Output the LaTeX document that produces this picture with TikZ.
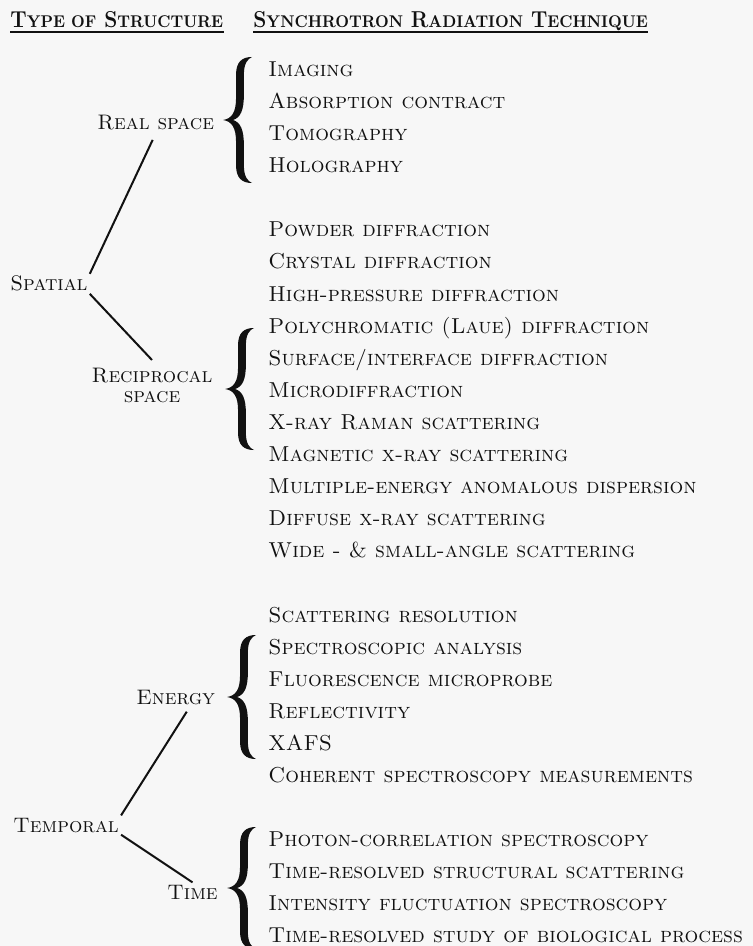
\documentclass[tikz,border=0pt]{standalone}
\usepackage{xcolor}
\usepackage{graphicx}
\usepackage{tikz}
\usetikzlibrary{positioning}
\definecolor{paper}{HTML}{F7F7F7}
\definecolor{ink}{HTML}{111111}
\newcommand{\hsc}[1]{{\fontsize{8.5}{10}\selectfont #1}}
\newcommand{\headtext}[1]{\scalebox{0.91}[1]{#1}}
\newcommand{\drawcurly}[3]{%
  \fill[ink,shift={(#1,#2)},xscale=29,yscale=#3]
    (1,1) .. controls (0.65,1) and (0.45,0.92) .. (0.45,0.72)
    -- (0.45,0.35) .. controls (0.45,0.12) and (0.3,0.02) .. (0,0)
    .. controls (0.3,-0.02) and (0.45,-0.12) .. (0.45,-0.35)
    -- (0.45,-0.72) .. controls (0.45,-0.92) and (0.65,-1) .. (1,-1)
    .. controls (0.85,-0.97) and (0.72,-0.9) .. (0.72,-0.72)
    -- (0.72,-0.4) .. controls (0.72,-0.15) and (0.6,-0.04) .. (0.35,0)
    .. controls (0.6,0.04) and (0.72,0.15) .. (0.72,0.4)
    -- (0.72,0.72) .. controls (0.72,0.9) and (0.85,0.97) .. (1,1) -- cycle;}
\tikzset{
  every node/.style={text=ink},
  item/.style={anchor=base west,inner sep=0pt,font=\fontsize{10.8}{13}\selectfont\scshape},
  kind/.style={anchor=base west,inner sep=1pt,align=center,font=\fontsize{10.5}{13}\selectfont\scshape},
  head/.style={anchor=base west,inner sep=0pt,font=\fontsize{11.5}{14}\selectfont\bfseries},
  link/.style={draw=ink,line width=1pt},
  rule/.style={draw=ink,line width=0.7pt},
}

\begin{document}
\begin{tikzpicture}[x=0.5pt,y=-0.5pt]
\useasboundingbox[fill=paper] (0,0) rectangle (753,946);
% column heads
\node[head] (htype) at (10,28) {\headtext{T\hsc{YPE OF} S\hsc{TRUCTURE}}};
\node[head] (htech) at (253,28) {\headtext{S\hsc{YNCHROTRON} R\hsc{ADIATION} T\hsc{ECHNIQUE}}};
\draw[rule] ([shift={(0,4)}]htype.base west) -- ([shift={(0,4)}]htype.base east);
\draw[rule] ([shift={(0,4)}]htech.base west) -- ([shift={(0,4)}]htech.base east);
% structure tree
\node[kind] (real) at (95,130) {Real space};
\node[kind] (spatial) at (8,291) {Spatial};
\node[kind,anchor=north] (recip) at (152,366) {Reciprocal\\[-3pt]space};
\node[kind] (energy) at (134,704) {Energy};
\node[kind] (temporal) at (11,832) {Temporal};
\node[kind] (time) at (165,899) {Time};
\draw[link] (spatial.north east) -- ([shift={(-3,7)}]real.south);
\draw[link] (spatial.south east) -- ([shift={(0,-6)}]recip.north);
\draw[link] (temporal.north east) -- ([shift={(11,5)}]energy.south);
\draw[link] (temporal.south east) -- (time.north);
% braces
\drawcurly{223}{120}{63}
\drawcurly{225}{389}{61}
\drawcurly{227}{697}{62}
\drawcurly{227}{888}{61}
% real space
\node[item] (img) at (268,77) {Imaging};
\node[item] (absc) at (268,109) {Absorption contract};
\node[item] (tomo) at (268,141) {Tomography};
\node[item] (holo) at (268,173) {Holography};
% reciprocal space
\node[item] (powd) at (268,237) {Powder diffraction};
\node[item] (crys) at (268,269) {Crystal diffraction};
\node[item] (hipr) at (268,301) {High-pressure diffraction};
\node[item] (laue) at (268,333) {Polychromatic (Laue) diffraction};
\node[item] (surf) at (268,365) {Surface/interface diffraction};
\node[item] (micr) at (268,397) {Microdiffraction};
\node[item] (ramn) at (268,429) {X-ray Raman scattering};
\node[item] (magn) at (268,461) {Magnetic x-ray scattering};
\node[item] (mead) at (268,493) {Multiple-energy anomalous dispersion};
\node[item] (diff) at (268,525) {Diffuse x-ray scattering};
\node[item] (saxs) at (268,557) {Wide - \& small-angle scattering};
% energy
\node[item] (sres) at (268,622) {Scattering resolution};
\node[item] (spec) at (268,654) {Spectroscopic analysis};
\node[item] (fluo) at (268,686) {Fluorescence microprobe};
\node[item] (refl) at (268,718) {Reflectivity};
\node[item] (xafs) at (268,750) {XAFS};
\node[item] (cohr) at (268,782) {Coherent spectroscopy measurements};
% time
\node[item] (pcs) at (268,846) {Photon-correlation spectroscopy};
\node[item] (trss) at (268,878) {Time-resolved structural scattering};
\node[item] (ifs) at (268,910) {Intensity fluctuation spectroscopy};
\node[item] (trbp) at (268,942) {Time-resolved study of biological process};
\end{tikzpicture}
\end{document}
